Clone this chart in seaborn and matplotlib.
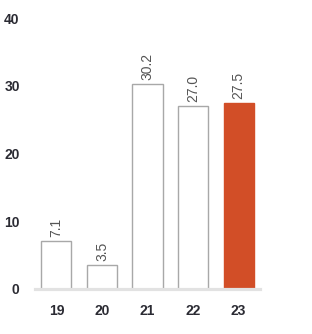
import matplotlib
matplotlib.use("Agg")
import matplotlib.pyplot as plt
import seaborn as sns
import pandas as pd

categories = ["19", "20", "21", "22", "23"]
values = [7.1, 3.5, 30.2, 27.0, 27.5]
value_labels = ["7.1", "3.5", "30.2", "27.0", "27.5"]
yticks = [0, 10, 20, 30, 40]

sns.set_theme(style="white")
plt.rcParams['font.family'] = ['Liberation Sans Narrow', 'Liberation Sans', 'DejaVu Sans']

df = pd.DataFrame({"cat": categories, "val": values})

fig = plt.figure(figsize=(3.12, 3.34), dpi=100)
ax = fig.add_axes([35/312, 1 - 289/334, (260 - 35)/312, (289 - 18)/334])

colors = ["white", "white", "white", "white", "#d24e27"]
edges = ["#a8a8a8", "#a8a8a8", "#a8a8a8", "#a8a8a8", "#d24e27"]
sns.barplot(data=df, x="cat", y="val", ax=ax, width=0.66, palette=colors,
            hue="cat", legend=False, linewidth=1.0, saturation=1)
for p, ec in zip(ax.patches, edges):
    p.set_edgecolor(ec)

for i, (v, lab) in enumerate(zip(values, value_labels)):
    ax.annotate(lab, (i, v), xytext=(0, 3), textcoords="offset points",
                rotation=90, ha="center", va="bottom", fontsize=10,
                color="#555555")

ax.set_ylim(0, 40)
ax.set_xlim(-0.47, 4.47)
ax.set_yticks(yticks)
ax.set_yticklabels([str(t) for t in yticks])
ax.set_xlabel("")
ax.set_ylabel("")
for s in ["top", "right", "left"]:
    ax.spines[s].set_visible(False)
ax.spines["bottom"].set_color("#e2e2e2")
ax.spines["bottom"].set_linewidth(2.3)
ax.tick_params(axis="both", length=0)
ax.tick_params(axis="y", pad=11)
ax.tick_params(axis="x", pad=11)
for t in ax.get_xticklabels() + ax.get_yticklabels():
    t.set_fontweight("bold")
    t.set_fontsize(10)
    t.set_color("#2b2b33")
ax.grid(False)

fig.savefig("out.png", dpi=100)
